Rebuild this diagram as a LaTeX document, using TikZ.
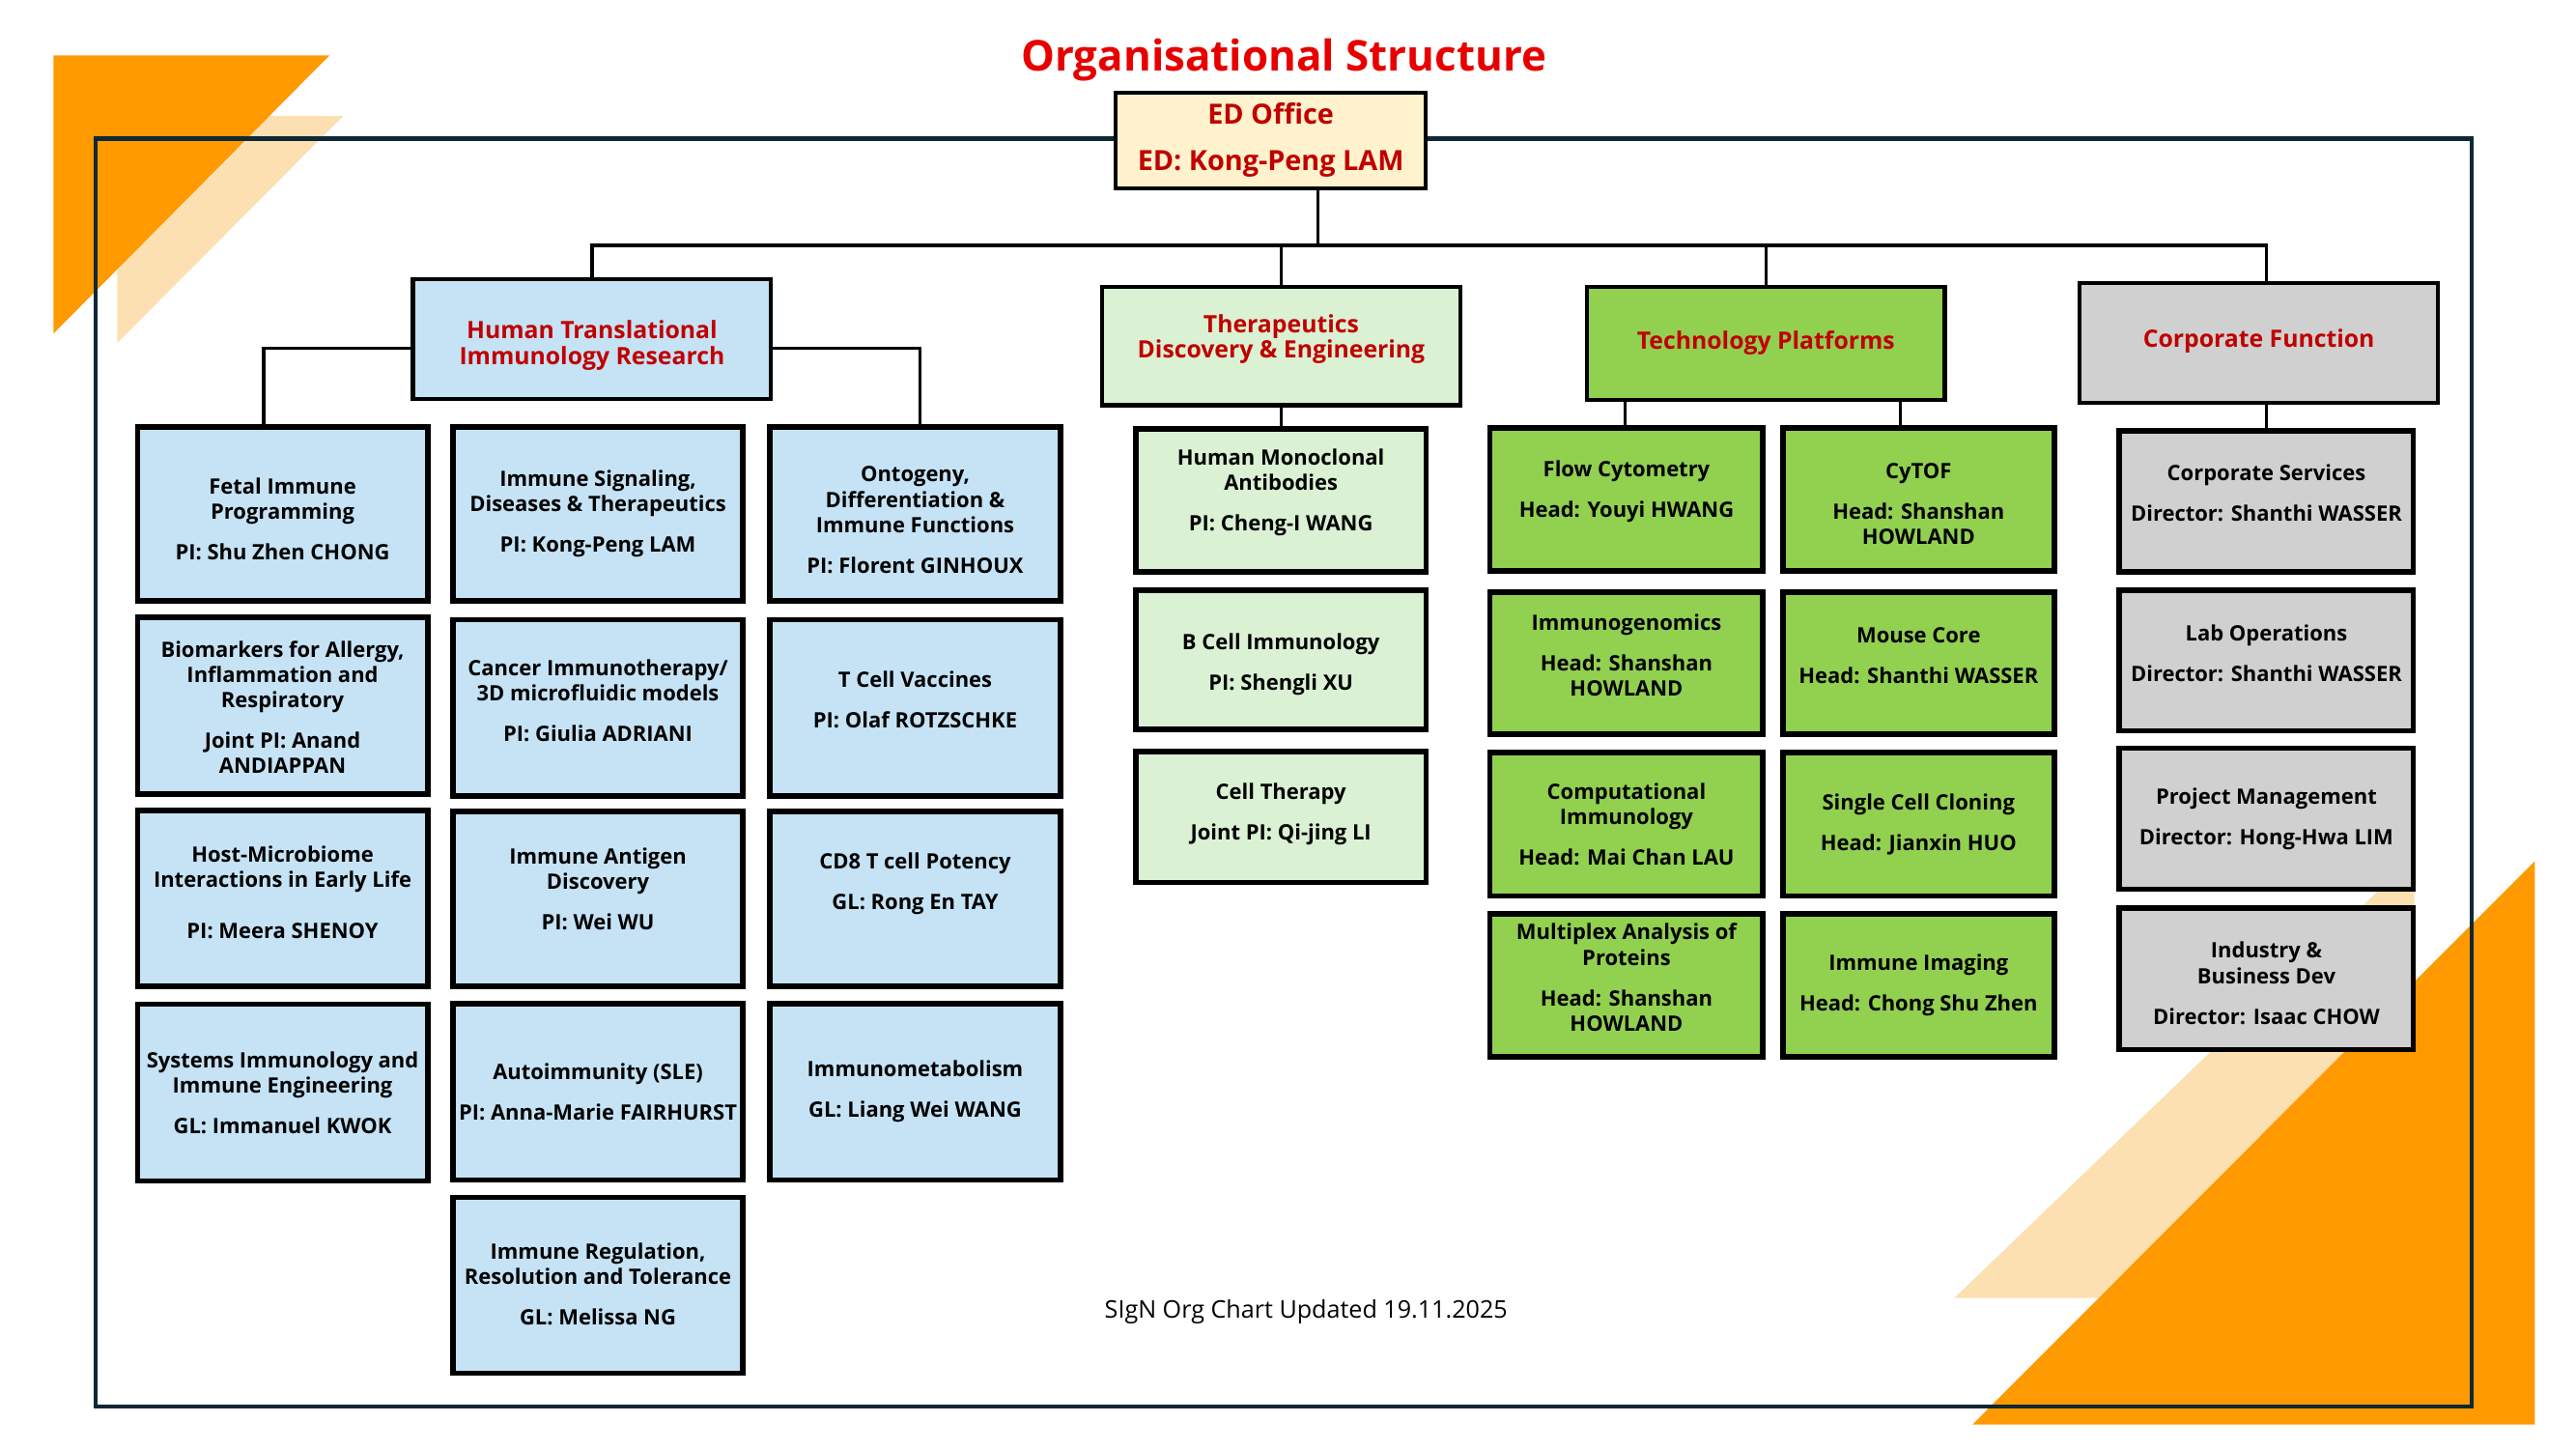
\documentclass[tikz,border=0pt]{standalone}
\usepackage{fontspec}
\setmainfont{Open Sans}
\definecolor{frameC}{RGB}{14,40,52}
\definecolor{orangeD}{RGB}{255,153,0}
\definecolor{orangeL}{RGB}{253,224,178}
\definecolor{blueF}{RGB}{197,227,245}
\definecolor{lgreenF}{RGB}{218,241,211}
\definecolor{greenF}{RGB}{146,208,80}
\definecolor{greyF}{RGB}{208,208,208}
\definecolor{creamF}{RGB}{255,242,204}
\definecolor{hdrRed}{RGB}{192,0,0}
\definecolor{titleRed}{RGB}{232,0,0}
\newcommand\gp{\\[4.5pt]}
\newcommand\gpl{\\[7.5pt]}
\newcommand\obox[9]{\node[#2, minimum width={(#6-#4-2.5)*0.48395pt}, minimum height={(#7-#5-2.5)*0.48395pt}, label={[#3, yshift={-(#8)*0.48395pt}]center:{#9}}] (#1) at ({(#4+#6)/2},{(#5+#7)/2}) {};}
\tikzset{
  conn/.style={draw=black, line width=0.9pt},
  smallbox/.style={draw=black, line width=1.6pt, rectangle, inner sep=0pt},
  bluebox/.style={smallbox, fill=blueF},
  lgbox/.style={smallbox, fill=lgreenF},
  gbox/.style={smallbox, fill=greenF},
  greybox/.style={smallbox, fill=greyF},
  hdrbox/.style={draw=black, line width=1.2pt, rectangle, inner sep=0pt},
  boxtxt/.style={align=center, font=\fontsize{6.25}{7.45}\selectfont\bfseries, inner sep=0pt, text=black},
  hdrtxt/.style={align=center, font=\fontsize{7.05}{7.6}\selectfont\bfseries, inner sep=0pt, text=hdrRed},
  edtxt/.style={align=center, font=\fontsize{8.2}{13.8}\selectfont\bfseries, inner sep=0pt, text=hdrRed},
}
\begin{document}
\begin{tikzpicture}[x=0.017009cm, y=-0.017009cm]
\useasboundingbox (0,0) rectangle (1568,882);
% decorations
\fill[orangeL] (71.3,70.6) -- (209,70.6) -- (71.3,208.8) -- cycle;
\fill[orangeD] (32.6,33.7) -- (200.6,33.7) -- (32.6,203) -- cycle;
\fill[orangeL] (1189.5,790) -- (1469.6,790) -- (1469.6,521) -- cycle;
\fill[orangeD] (1200.6,867) -- (1543,867) -- (1543,524) -- cycle;
\draw[frameC, line width=1.3pt] (58.1,84.3) rectangle (1504.5,856);

% title and footer
\node[font=\fontsize{12.5}{14}\selectfont\bfseries, text=titleRed, anchor=base, inner sep=0pt] (title) at (781.5,43.5) {Organisational Structure};
\node[font=\fontsize{7.15}{8}\selectfont, anchor=base, inner sep=0pt] (foot) at (795,802) {SIgN Org Chart Updated 19.11.2025};

% top level
\obox{ed}{hdrbox, fill=creamF}{edtxt}{678}{55.3}{869}{116}{-0.3}{ED Office\\ED: Kong-Peng LAM}
\obox{htir}{hdrbox, fill=blueF}{hdrtxt}{250.1}{168.5}{470.6}{244}{3.8}{Human Translational\\Immunology Research}
\obox{tde}{hdrbox, fill=lgreenF}{hdrtxt}{669.7}{173.3}{890}{247.9}{-4.2}{Therapeutics\\Discovery \& Engineering}
\obox{tp}{hdrbox, fill=greenF}{hdrtxt}{964.8}{173.3}{1185}{244.6}{0}{Technology Platforms}
\obox{cf}{hdrbox, fill=greyF}{hdrtxt}{1264.7}{170.9}{1485.2}{246.3}{-1}{Corporate Function}

% HTIR column 1
\obox{h11}{bluebox}{boxtxt}{82.4}{258.7}{261.6}{366.9}{3.2}{Fetal Immune\\Programming\gp PI: Shu Zhen CHONG}
\obox{h21}{bluebox}{boxtxt}{82.4}{374.5}{261.6}{484.5}{1}{Biomarkers for Allergy,\\Inflammation and\\Respiratory\gp Joint PI: Anand\\ANDIAPPAN}
\obox{h31}{bluebox}{boxtxt}{82.4}{492}{261.6}{601.5}{-3.7}{Host-Microbiome\\Interactions in Early Life\gpl PI: Meera SHENOY}
\obox{h41}{bluebox}{boxtxt}{82.4}{610}{261.6}{720}{0}{Systems Immunology and\\Immune Engineering\gp GL: Immanuel KWOK}
% HTIR column 2
\obox{h12}{bluebox}{boxtxt}{274.6}{258.7}{453.3}{366.9}{0}{Immune Signaling,\\Diseases \& Therapeutics\gp PI: Kong-Peng LAM}
\obox{h22}{bluebox}{boxtxt}{274.6}{375.9}{453.3}{485.6}{-4.2}{Cancer Immunotherapy/\\3D microfluidic models\gp PI: Giulia ADRIANI}
\obox{h32}{bluebox}{boxtxt}{274.6}{492.5}{453.3}{601.5}{-5.7}{Immune Antigen\\Discovery\gp PI: Wei WU}
\obox{h42}{bluebox}{boxtxt}{274.6}{609.5}{453.3}{719.5}{0}{Autoimmunity (SLE)\gp PI: Anna-Marie FAIRHURST}
\obox{h52}{bluebox}{boxtxt}{274.6}{727.5}{453.3}{837}{-0.5}{Immune Regulation,\\Resolution and Tolerance\gp GL: Melissa NG}
% HTIR column 3
\obox{h13}{bluebox}{boxtxt}{467.4}{258.7}{646.7}{366.9}{3.7}{Ontogeny,\\Differentiation \&\\Immune Functions\gp PI: Florent GINHOUX}
\obox{h23}{bluebox}{boxtxt}{467.4}{375.9}{646.7}{485.6}{-4.7}{T Cell Vaccines\gp PI: Olaf ROTZSCHKE}
\obox{h33}{bluebox}{boxtxt}{467.4}{492.5}{646.7}{601.5}{-9}{CD8 T cell Potency\gp GL: Rong En TAY}
\obox{h43}{bluebox}{boxtxt}{467.4}{609.5}{646.7}{719.5}{0}{Immunometabolism\gp GL: Liang Wei WANG}

% TDE
\obox{t1}{lgbox}{boxtxt}{690}{259.7}{869.4}{349.2}{-4.7}{Human Monoclonal\\Antibodies\gp PI: Cheng-I WANG}
\obox{t2}{lgbox}{boxtxt}{690}{357.9}{869.4}{445.3}{3}{B Cell Immunology\gp PI: Shengli XU}
\obox{t3}{lgbox}{boxtxt}{690}{456.2}{869.4}{538.4}{-2}{Cell Therapy\gp Joint PI: Qi-jing LI}

% TP
\obox{pa1}{gbox}{boxtxt}{905.7}{259.1}{1074.4}{348.8}{-5}{Flow Cytometry\gp Head: Youyi HWANG}
\obox{pb1}{gbox}{boxtxt}{1083.9}{259.1}{1251.7}{348.8}{2.6}{CyTOF\gp Head: Shanshan\\HOWLAND}
\obox{pa2}{gbox}{boxtxt}{905.7}{359}{1074.4}{448}{-4.6}{Immunogenomics\gp Head: Shanshan\\HOWLAND}
\obox{pb2}{gbox}{boxtxt}{1083.9}{359}{1251.7}{448}{-4.5}{Mouse Core\gp Head: Shanthi WASSER}
\obox{pa3}{gbox}{boxtxt}{905.7}{456.6}{1074.4}{546.5}{0}{Computational\\Immunology\gp Head: Mai Chan LAU}
\obox{pb3}{gbox}{boxtxt}{1083.9}{456.6}{1251.7}{546.5}{0}{Single Cell Cloning\gp Head: Jianxin HUO}
\obox{pa4}{gbox}{boxtxt}{905.7}{554.9}{1074.4}{644.4}{-4.8}{Multiplex Analysis of\\Proteins\gp Head: Shanshan\\HOWLAND}
\obox{pb4}{gbox}{boxtxt}{1083.9}{554.9}{1251.7}{644.4}{0}{Immune Imaging\gp Head: Chong Shu Zhen}

% CF
\obox{c1}{greybox}{boxtxt}{1288.8}{260.9}{1470.3}{349.4}{-5}{Corporate Services\gp Director: Shanthi WASSER}
\obox{c2}{greybox}{boxtxt}{1288.8}{358}{1470.3}{446}{-4.5}{Lab Operations\gp Director: Shanthi WASSER}
\obox{c3}{greybox}{boxtxt}{1288.8}{454}{1470.3}{542.4}{0}{Project Management\gp Director: Hong-Hwa LIM}
\obox{c4}{greybox}{boxtxt}{1288.8}{551.4}{1470.3}{640}{2.7}{Industry \&\\Business Dev\gp Director: Isaac CHOW}

% connectors
\coordinate (edDrop) at (802.4,149.3);
\coordinate (cfDrop) at (1379.7,149.3);
\coordinate (hl) at (160.5,212);
\coordinate (hr) at (560,212);
\coordinate (tpa) at (989,250);
\coordinate (tpb) at (1156.8,250);
\draw[conn] (ed.south -| edDrop) -- (edDrop);
\draw[conn] (htir.north) |- (cfDrop) -- (cfDrop |- cf.north);
\draw[conn] (tde.north) -- (tde.north |- edDrop);
\draw[conn] (tp.north) -- (tp.north |- edDrop);
\draw[conn] (htir.west |- hl) -- (hl) -- (hl |- h11.north);
\draw[conn] (htir.east |- hr) -- (hr) -- (hr |- h13.north);
\draw[conn] (t1.north) -- (t1.north |- tde.south);
\draw[conn] (tpa |- tp.south) -- (tpa |- pa1.north);
\draw[conn] (tpb |- tp.south) -- (tpb |- pb1.north);
\draw[conn] (cfDrop |- cf.south) -- (cfDrop |- c1.north);
\end{tikzpicture}
\end{document}
